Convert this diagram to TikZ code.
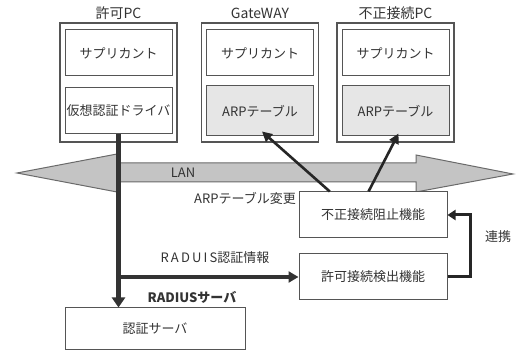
\documentclass[tikz,border=0pt]{standalone}
\usepackage{fontspec}
\setmainfont{Noto Sans CJK JP}
\usetikzlibrary{calc,arrows.meta}
\definecolor{txt}{HTML}{333333}
\definecolor{edge}{HTML}{555555}
\definecolor{arpfill}{HTML}{E6E6E6}
\definecolor{lanfill}{HTML}{C4C4C4}
\definecolor{lanedge}{HTML}{6A6A6A}
\begin{document}
\begin{tikzpicture}[x=1pt,y=-1pt,
  font=\fontsize{13}{15}\selectfont, text=txt,
  outerbox/.style={draw=edge, line width=1.2pt, minimum width=117pt, minimum height=119pt, inner sep=0pt},
  innerbox/.style={draw=edge, line width=1pt, minimum width=107pt, minimum height=46pt, inner sep=0pt},
  arpbox/.style={innerbox, fill=arpfill, minimum height=50pt},
  funcbox/.style={draw=edge, line width=1pt, minimum width=148pt, minimum height=46pt, inner sep=0pt, fill=white},
  lbl/.style={inner sep=1pt},
  toplbl/.style={inner sep=1pt, font=\fontsize{14}{16}\selectfont},
  thickline/.style={draw=black!80, line width=4.5pt},
  arparrow/.style={draw=black!85, line width=2.6pt, -{Triangle[length=10pt,width=10pt]}}
]
\useasboundingbox (0,0) rectangle (520,352);
% PCs
\node[outerbox] (pc1) at (118.5,82.5) {};
\node[innerbox] (sup1) at (118.5,53) {サプリカント};
\node[innerbox] (drv) at (118.5,111) {仮想認証ドライバ};
\node[toplbl] (pc1l) at (118.5,13) {許可PC};

\node[outerbox] (gw) at (260,82.5) {};
\node[innerbox] (sup2) at (260,53) {サプリカント};
\node[arpbox] (gwarp) at (260,111) {ARPテーブル};
\node[toplbl] (gwl) at (260,13) {GateWAY};

\node[outerbox] (ng) at (395.5,82.5) {};
\node[innerbox] (sup3) at (395.5,53) {サプリカント};
\node[arpbox] (ngarp) at (395.5,111) {ARPテーブル};
\node[toplbl] (ngl) at (395.5,13) {不正接続PC};

% LAN arrow
\filldraw[fill=lanfill, draw=lanedge, line width=1pt]
  (17,173) -- (117,154) -- (117,163) -- (416,163) -- (416,155) -- (513,174)
  -- (416,192) -- (416,182) -- (117,182) -- (117,192) -- cycle;
\node[lbl] (lan) at (183,173) {LAN};

% function boxes
\node[funcbox] (blk) at (373,215) {不正接続阻止機能};
\node[funcbox] (det) at (373,277) {許可接続検出機能};
\node[draw=edge, line width=1pt, minimum width=180pt, minimum height=42pt, inner sep=0pt] (srv) at (155,329) {認証サーバ};

% labels
\node[lbl] (arpchg) at (245,198) {ARPテーブル変更};
\node[lbl] (radinfo) at (215,258) {R\,A\,D\,U\,I\,S認証情報};
\node[lbl, font=\fontsize{13}{15}\selectfont\bfseries] (radsrv) at (192,297) {RADIUSサーバ};
\node[lbl] (renkei) at (498,237) {連携};

% connectors
\draw[thickline, -{Triangle[length=10pt,width=13pt]}] (drv.south) -- (drv.south |- srv.north);
\draw[draw=black!80, line width=4pt, -{Triangle[length=10pt,width=11pt]}] (drv.south |- det.west) -- (det.west);
\draw[draw=black!85, line width=3pt, -{Triangle[length=8pt,width=10pt]}] (det.east) -- ++(23,0) |- (blk.east);
\draw[arparrow] ($(blk.north west)!0.21!(blk.north east)$) -- ($(gwarp.south)+(2,-5)$);
\draw[arparrow] ($(blk.north west)!0.47!(blk.north east)$) -- ($(ngarp.south)+(3,-3)$);
\end{tikzpicture}
\end{document}
